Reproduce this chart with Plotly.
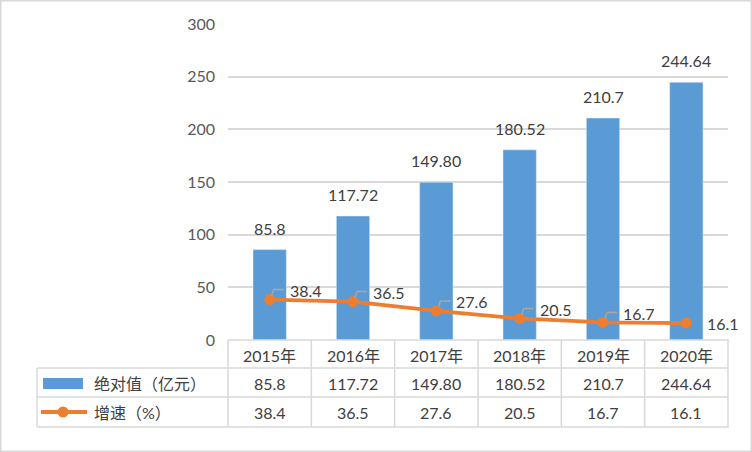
import plotly.graph_objects as go

years = ["2015年", "2016年", "2017年", "2018年", "2019年", "2020年"]
abs_values = [85.8, 117.72, 149.80, 180.52, 210.7, 244.64]
abs_labels = ["85.8", "117.72", "149.80", "180.52", "210.7", "244.64"]
growth_values = [38.4, 36.5, 27.6, 20.5, 16.7, 16.1]
growth_labels = ["38.4", "36.5", "27.6", "20.5", "16.7", "16.1"]
series_names = ["绝对值（亿元）", "增速（%）"]
y_ticks = [0, 50, 100, 150, 200, 250, 300]

W, H = 752, 452
L, R, T, B = 228, 728, 24, 340  # plot area in pixels

BLUE = "#5B9BD5"
ORANGE = "#ED7D31"
GRID = "#D9D9D9"
TXT = "#404040"
FONT = "Lato, Noto Sans CJK SC, sans-serif"


def px(x):
    return (x - L) / (R - L)


def py(y):
    return (B - y) / (B - T)


fig = go.Figure()
fig.add_trace(go.Bar(x=years, y=abs_values, marker_color=BLUE, width=0.4,
                     name=series_names[0], showlegend=False))
fig.add_trace(go.Scatter(x=years, y=growth_values, mode="lines+markers",
                         line=dict(color=ORANGE, width=3.8),
                         marker=dict(color=ORANGE, size=11),
                         name=series_names[1], showlegend=False))

ann = []
shapes = []
n = len(years)

# bar labels
for c, v, t in zip(years, abs_values, abs_labels):
    ann.append(dict(x=c, y=v, xref="x", yref="y", text=t, showarrow=False,
                    yanchor="bottom", yshift=10, font=dict(size=16, color=TXT)))

# line labels with leader lines
for i, (c, v, t) in enumerate(zip(years, growth_values, growth_labels)):
    last = i == n - 1
    ann.append(dict(x=c, y=v, xref="x", yref="y", text=t, showarrow=False,
                    xanchor="left", yanchor="middle",
                    xshift=18 if not last else 19,
                    yshift=9 if not last else 0,
                    font=dict(size=16, color=TXT)))
    if not last:
        shapes.append(dict(type="path", xref="x", yref="y",
                           xsizemode="pixel", ysizemode="pixel",
                           xanchor=i, yanchor=v,
                           path="M 2,4 L 4,10 L 14,10",
                           line=dict(color="#A6A6A6", width=1.5)))

# table grid
rows = [340, 368, 397, 427]
tleft = 37
col_w = (R - L) / n
hlines = [(L, rows[0])] + [(tleft, y) for y in rows[1:]]
for x0, y in hlines:
    shapes.append(dict(type="rect", xref="paper", yref="paper",
                       x0=px(x0), x1=px(R + 0.75), y0=py(y - 0.75), y1=py(y + 0.75),
                       fillcolor=GRID, line=dict(width=0), layer="above"))
shapes.append(dict(type="rect", xref="paper", yref="paper",
                   x0=px(tleft - 0.75), x1=px(tleft + 0.75),
                   y0=py(rows[1]), y1=py(rows[3]),
                   fillcolor=GRID, line=dict(width=0)))
for i in range(n + 1):
    xx = L + i * col_w
    shapes.append(dict(type="rect", xref="paper", yref="paper",
                       x0=px(xx - 0.75), x1=px(xx + 0.75),
                       y0=py(rows[0]), y1=py(rows[3]),
                       fillcolor=GRID, line=dict(width=0)))

row_centers = [(rows[k] + rows[k + 1]) / 2 for k in range(3)]
for i, c in enumerate(years):
    for k, txt in enumerate([c, abs_labels[i], growth_labels[i]]):
        ann.append(dict(x=c, y=py(row_centers[k] + 1), xref="x", yref="paper",
                        text=txt, showarrow=False, yanchor="middle",
                        xanchor="center", font=dict(size=16, color=TXT)))

for k, name in enumerate(series_names):
    ann.append(dict(x=px(92), y=py(row_centers[k + 1] + 1), xref="paper",
                    yref="paper", text=name, showarrow=False,
                    xanchor="left", yanchor="middle",
                    font=dict(size=16, color=TXT)))

# legend keys
shapes.append(dict(type="rect", xref="paper", yref="paper",
                   x0=px(43), x1=px(83), y0=py(389), y1=py(378),
                   fillcolor=BLUE, line=dict(width=0)))
shapes.append(dict(type="line", xref="paper", yref="paper",
                   x0=px(41), x1=px(87), y0=py(412), y1=py(412),
                   line=dict(color=ORANGE, width=3.8)))
shapes.append(dict(type="circle", xref="paper", yref="paper",
                   x0=px(57.5), x1=px(68.5), y0=py(417.5), y1=py(406.5),
                   fillcolor=ORANGE, line=dict(width=0)))

# outer border
shapes.append(dict(type="rect", xref="paper", yref="paper",
                   x0=px(0.75), x1=px(W - 0.75), y0=py(H - 0.75), y1=py(0.75),
                   line=dict(color=GRID, width=1.5)))

fig.update_layout(
    width=W, height=H,
    margin=dict(l=L, r=W - R, t=T, b=H - B, pad=0),
    paper_bgcolor="white", plot_bgcolor="white",
    font=dict(family=FONT, size=16, color=TXT),
    annotations=ann, shapes=shapes,
    xaxis=dict(range=[-0.5, n - 0.5], showticklabels=False, showgrid=False,
               showline=False, zeroline=False, ticks="", fixedrange=True),
    yaxis=dict(range=[0, 300], tickvals=y_ticks, showgrid=True, gridcolor=GRID,
               gridwidth=1.5, zeroline=False, showline=False, ticks="",
               ticklabelstandoff=12, tickfont=dict(size=16, color="#595959"),
               fixedrange=True),
)

fig.write_html("out.html", config={"displayModeBar": False},
               post_script="document.body.style.margin='0';"
                           "document.body.style.overflow='hidden';")
